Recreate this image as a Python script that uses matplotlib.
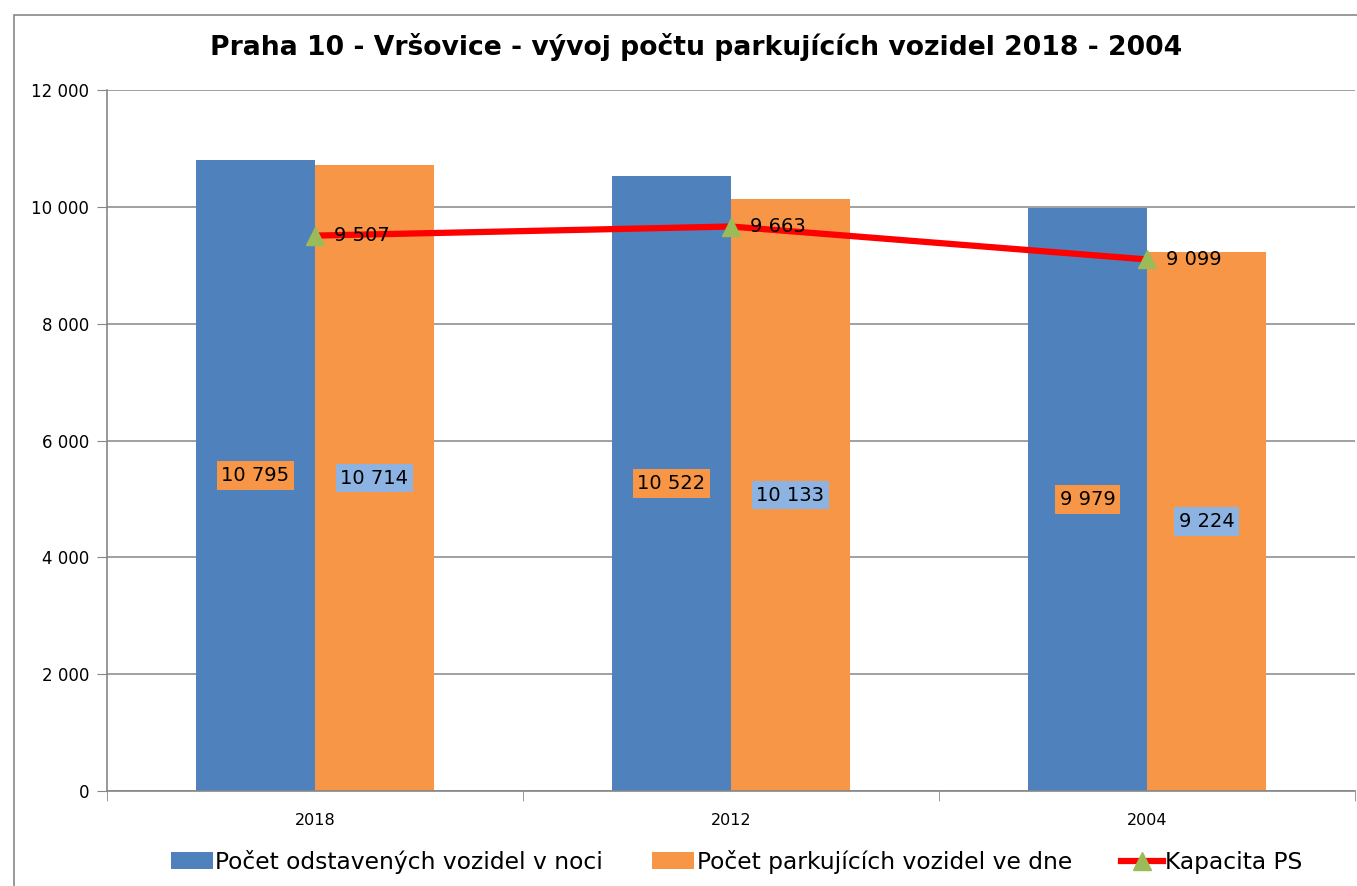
import numpy as np
import matplotlib.pyplot as plt
from matplotlib.patches import Rectangle
from matplotlib.ticker import FuncFormatter, FixedLocator

roky = ['2018', '2012', '2004']
noc = [10795, 10522, 9979]
den = [10714, 10133, 9224]
kapacita = [9507, 9663, 9099]

modra = '#4F81BD'
oranz = '#F79646'
svetle_modra = '#8DB3E2'

def mezera(v):
    return f'{int(v):,}'.replace(',', ' ')

fig = plt.figure(figsize=(13.57, 8.86), dpi=100)
# ramecek grafu
fig.add_artist(Rectangle((14/1357, -0.1), 1.2, (886-15)/886 + 0.1, transform=fig.transFigure,
                         fill=False, edgecolor='#888888', linewidth=1.2))

ax = fig.add_axes([107/1357, 1 - 791/886, 1248/1357, 701/886])
x = np.arange(len(roky))
w = 0.286
b1 = ax.bar(x - w/2, noc, w, color=modra, zorder=2)
b2 = ax.bar(x + w/2, den, w, color=oranz, zorder=2)
l1, = ax.plot(x, kapacita, color='red', linewidth=4.5, marker='^', markersize=13,
              markerfacecolor='#9BBB59', markeredgecolor='#9BBB59', zorder=3)

for i in range(len(roky)):
    ax.text(x[i] - w/2, noc[i]/2, mezera(noc[i]), ha='center', va='center', fontsize=14,
            bbox=dict(boxstyle='square,pad=0.25', facecolor=oranz, edgecolor='none'), zorder=4)
    ax.text(x[i] + w/2, den[i]/2, mezera(den[i]), ha='center', va='center', fontsize=14,
            bbox=dict(boxstyle='square,pad=0.25', facecolor=svetle_modra, edgecolor='none'), zorder=4)
    ax.annotate(mezera(kapacita[i]), (x[i], kapacita[i]), xytext=(14, 0), textcoords='offset points',
                ha='left', va='center', fontsize=14, zorder=5)

ax.set_xlim(-0.5, 2.5)
ax.set_ylim(0, 12000)
ax.set_yticks(range(0, 12001, 2000))
ax.yaxis.set_major_formatter(FuncFormatter(lambda v, p: mezera(v)))
ax.grid(axis='y', color='#868686', linewidth=1.1, zorder=0)
ax.set_xticks(x)
ax.set_xticklabels(roky, fontsize=11.5)
ax.tick_params(axis='x', which='major', length=0, pad=16)
ax.xaxis.set_minor_locator(FixedLocator([-0.5, 0.5, 1.5, 2.5]))
ax.tick_params(axis='x', which='minor', length=7, color='#868686')
ax.tick_params(axis='y', labelsize=12, length=7, color='#868686', pad=6)
for s in ['top', 'right']:
    ax.spines[s].set_visible(False)
for s in ['left', 'bottom']:
    ax.spines[s].set_color('#868686')
    ax.spines[s].set_linewidth(1.2)

fig.text(0.513, 1 - 47/886, 'Praha 10 - Vršovice - vývoj počtu parkujících vozidel 2018 - 2004',
         ha='center', va='center', fontsize=19.2, fontweight='bold')

fig.legend([b1, b2, l1],
           ['Počet odstavených vozidel v noci', 'Počet parkujících vozidel ve dne', 'Kapacita PS'],
           loc='center', bbox_to_anchor=(0.543, 1 - 862/886), ncol=3, frameon=False,
           fontsize=16.8, handlelength=1.8, handleheight=0.75, columnspacing=2.1, handletextpad=0.1)

fig.savefig('out.png', dpi=100)
